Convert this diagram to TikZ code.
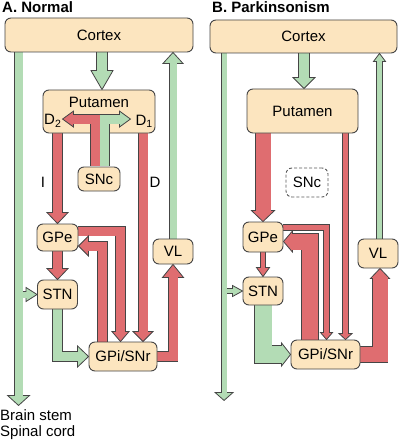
\documentclass[tikz,border=0pt]{standalone}
\usepackage{fontspec}
\setmainfont{Liberation Sans}
\usetikzlibrary{calc}
\definecolor{boxc}{HTML}{FCE5BF}
\definecolor{redc}{HTML}{DF6D70}
\definecolor{greenc}{HTML}{B3DCB5}
\definecolor{edgec}{HTML}{454545}
\pgfdeclarelayer{bg}
\pgfdeclarelayer{fg}
\pgfsetlayers{bg,main,fg}
% #1 colour, #2 shaft width, #3 head half width, #4 head length,
% #5 shaft path (start and corners), #6 last corner, #7 tip
\newcommand\fatarrow[7]{%
  \coordinate (fbase) at ($#7!#4pt!#6$);
  \draw[line width=#2pt+1.6pt, draw=edgec] #5 -- (fbase);
  \filldraw[fill=#1, draw=edgec, line width=0.8pt, line join=miter]
    ($(fbase)!#3pt!90:#7$) -- #7 -- ($(fbase)!#3pt!-90:#7$) -- cycle;
  \draw[line width=#2pt, draw=#1] #5 -- ($(fbase)!1pt!#7$);
}
\begin{document}
\begin{tikzpicture}[x=1pt,y=-1pt,
  every node/.style={font=\fontsize{15}{18}\selectfont, inner sep=0pt},
  box/.style={draw=edgec, fill=boxc, rounded corners=6pt, line width=0.9pt},
  ghostbox/.style={draw=edgec!90, dash pattern=on 3pt off 2pt, rounded corners=6pt, line width=0.9pt},
  ttl/.style={anchor=west, font=\fontsize{15}{18}\selectfont\bfseries}]
\useasboundingbox (0,0) rectangle (400,441);
\begin{pgfonlayer}{bg}
  \fill[white] (0,0) rectangle (400,441);
\end{pgfonlayer}

% ---------- titles and labels ----------
\node[ttl] (tA) at (2,7) {A. Normal};
\node[ttl] (tB) at (212,7) {B. Parkinsonism};
\node (lblI) at (43,182) {I};
\node (lblD) at (155,182) {D};
\node[anchor=west] (bstem) at (0,415) {Brain stem};
\node[anchor=west] (scord) at (0,433) {Spinal cord};

% ---------- panel A nodes ----------
\node[box, minimum width=188pt, minimum height=34pt] (cortexA) at (99,35) {Cortex};
\node[box, minimum width=112pt, minimum height=43pt] (putA) at (99,111.5) {};
\node (putAt) at (99,102) {Putamen};
\node[anchor=west] (d2) at (44,121) {D\textsubscript{2}};
\node[anchor=east] (d1) at (153,121) {D\textsubscript{1}};
\node[box, minimum width=42pt, minimum height=24pt] (snA) at (99,179) {SNc};
\node[box, minimum width=41pt, minimum height=27pt] (gpeA) at (57.5,237.5) {GPe};
\node[box, minimum width=40pt, minimum height=29pt] (stnA) at (57.5,294.5) {STN};
\node[box, minimum width=68pt, minimum height=29pt] (gpiA) at (123,356.5) {GPi/SNr};
\node[box, minimum width=40pt, minimum height=25pt] (vlA) at (173,251.5) {VL};

% ---------- panel B nodes ----------
\node[box, minimum width=187pt, minimum height=33pt] (cortexB) at (303.5,36.5) {Cortex};
\node[box, minimum width=111pt, minimum height=44pt] (putB) at (302.5,111) {Putamen};
\node[ghostbox, minimum width=42pt, minimum height=29pt] (snB) at (307,182.5) {SNc};
\node[box, minimum width=40pt, minimum height=30pt] (gpeB) at (263,237) {GPe};
\node[box, minimum width=40pt, minimum height=28pt] (stnB) at (263,291) {STN};
\node[box, minimum width=69pt, minimum height=29pt] (gpiB) at (325.5,354.5) {GPi/SNr};
\node[box, minimum width=40pt, minimum height=29pt] (vlB) at (378,253.5) {VL};

% ---------- panel A connectors ----------
\begin{pgfonlayer}{bg}
  \coordinate (a1s) at ($(cortexA.south)+(3,0)$);
  \fatarrow{greenc}{10}{11}{19}{(a1s)}{(a1s)}{(a1s |- putA.north)}
  \coordinate (a2s) at ($(cortexA.south west)+(14,0)$);
  \coordinate (bsA) at ($(a2s)+(0,353)$);
  \fatarrow{greenc}{8}{11}{10}{(a2s)}{(a2s)}{(bsA)}
  \fatarrow{greenc}{6}{7}{11}{(bsA |- stnA.west)}{(bsA |- stnA.west)}{(stnA.west)}
  \draw[line width=8pt, greenc] ($(bsA |- stnA.west)+(0,-9)$) -- ++(0,18);
  \fatarrow{redc}{9}{10.5}{11}{(gpeA.north |- putA.south)}{(gpeA.north |- putA.south)}{(gpeA.north)}
  \coordinate (a7t) at ($(gpiA.north)+(20,0)$);
  \fatarrow{redc}{9}{10}{10}{(a7t |- putA.south)}{(a7t |- putA.south)}{(a7t)}
  \fatarrow{redc}{9}{10.5}{11}{(gpeA.south)}{(gpeA.south)}{(stnA.north)}
  \coordinate (a9s) at ($(gpeA.east)+(0,-6.5)$);
  \coordinate (a9t) at ($(gpiA.north)+(-2.5,0)$);
  \fatarrow{redc}{9}{8.5}{10}{(a9s) -- (a9s -| a9t)}{(a9s -| a9t)}{(a9t)}
  \coordinate (a10s) at ($(gpiA.north)+(-20.5,0)$);
  \coordinate (a10t) at ($(gpeA.east)+(0,8.5)$);
  \fatarrow{redc}{9}{10}{10}{(a10s) -- (a10s |- a10t)}{(a10s |- a10t)}{(a10t)}
  \fatarrow{greenc}{9}{10.5}{11}{(stnA.south) -- (stnA.south |- gpiA.west)}{(stnA.south |- gpiA.west)}{(gpiA.west)}
  \fatarrow{redc}{9}{10.5}{13}{(gpiA.east) -- (vlA.south |- gpiA.east)}{(vlA.south |- gpiA.east)}{(vlA.south)}
  \fatarrow{greenc}{7}{10}{11}{(vlA.north)}{(vlA.north)}{(vlA.north |- cortexA.south)}
\end{pgfonlayer}
\begin{pgfonlayer}{fg}
  \coordinate (a4s) at ($(snA.north)+(-3.5,-0.5)$);
  \coordinate (a4c) at ($(a4s)+(0,-47)$);
  \coordinate (a4t) at ($(putA.west |- a4c)+(20,0)$);
  \fatarrow{redc}{9}{8}{11}{(a4s) -- (a4c)}{(a4c)}{(a4t)}
  \coordinate (a5s) at ($(snA.north)+(5.5,-0.5)$);
  \coordinate (a5c) at (a5s |- a4c);
  \coordinate (a5t) at ($(putA.east |- a4c)+(-25,0)$);
  \fatarrow{greenc}{9}{8}{11}{(a5s) -- (a5c)}{(a5c)}{(a5t)}
  \draw[line width=9pt, redc] (a4s) -- (a4c) -- ($(a4c)!15pt!(a4t)$);
\end{pgfonlayer}

% ---------- panel B connectors ----------
\begin{pgfonlayer}{bg}
  \coordinate (b1s) at ($(cortexB.south)+(0.5,0)$);
  \fatarrow{greenc}{10}{11}{11}{(b1s)}{(b1s)}{(b1s |- putB.north)}
  \coordinate (b2s) at ($(cortexB.south west)+(14.5,0)$);
  \coordinate (bsB) at ($(b2s)+(0,347)$);
  \fatarrow{greenc}{5}{9}{8}{(b2s)}{(b2s)}{(bsB)}
  \fatarrow{greenc}{4}{5.5}{10}{(bsB |- stnB.west)}{(bsB |- stnB.west)}{(stnB.west)}
  \draw[line width=5pt, greenc] ($(bsB |- stnB.west)+(0,-7)$) -- ++(0,14);
  \fatarrow{redc}{15}{11.5}{11}{(gpeB.north |- putB.south)}{(gpeB.north |- putB.south)}{(gpeB.north)}
  \coordinate (b5t) at ($(gpiB.north)+(20,0)$);
  \fatarrow{redc}{5}{6.5}{6}{(b5t |- putB.south)}{(b5t |- putB.south)}{(b5t)}
  \fatarrow{redc}{4}{6.5}{9}{(gpeB.south)}{(gpeB.south)}{(stnB.north)}
  \coordinate (b7s) at ($(gpeB.east)+(0,-9.5)$);
  \coordinate (b7t) at ($(gpiB.north)+(1,0)$);
  \fatarrow{redc}{5}{6}{7}{(b7s) -- (b7s -| b7t)}{(b7s -| b7t)}{(b7t)}
  \coordinate (b8s) at ($(gpiB.north)+(-15.5,0)$);
  \coordinate (b8t) at ($(gpeB.east)+(0,4.5)$);
  \fatarrow{redc}{16}{10.5}{9}{(b8s) -- (b8s |- b8t)}{(b8s |- b8t)}{(b8t)}
  \fatarrow{greenc}{17}{11.5}{9}{(stnB.south) -- (stnB.south |- gpiB.west)}{(stnB.south |- gpiB.west)}{(gpiB.west)}
  \coordinate (b10t) at ($(vlB.south)+(2,0)$);
  \fatarrow{redc}{15}{9.5}{10}{(gpiB.east) -- (b10t |- gpiB.east)}{(b10t |- gpiB.east)}{(b10t)}
  \coordinate (b11s) at ($(vlB.north)+(1.5,0)$);
  \fatarrow{greenc}{5}{6}{8}{(b11s)}{(b11s)}{(b11s |- cortexB.south)}
\end{pgfonlayer}
\end{tikzpicture}
\end{document}
